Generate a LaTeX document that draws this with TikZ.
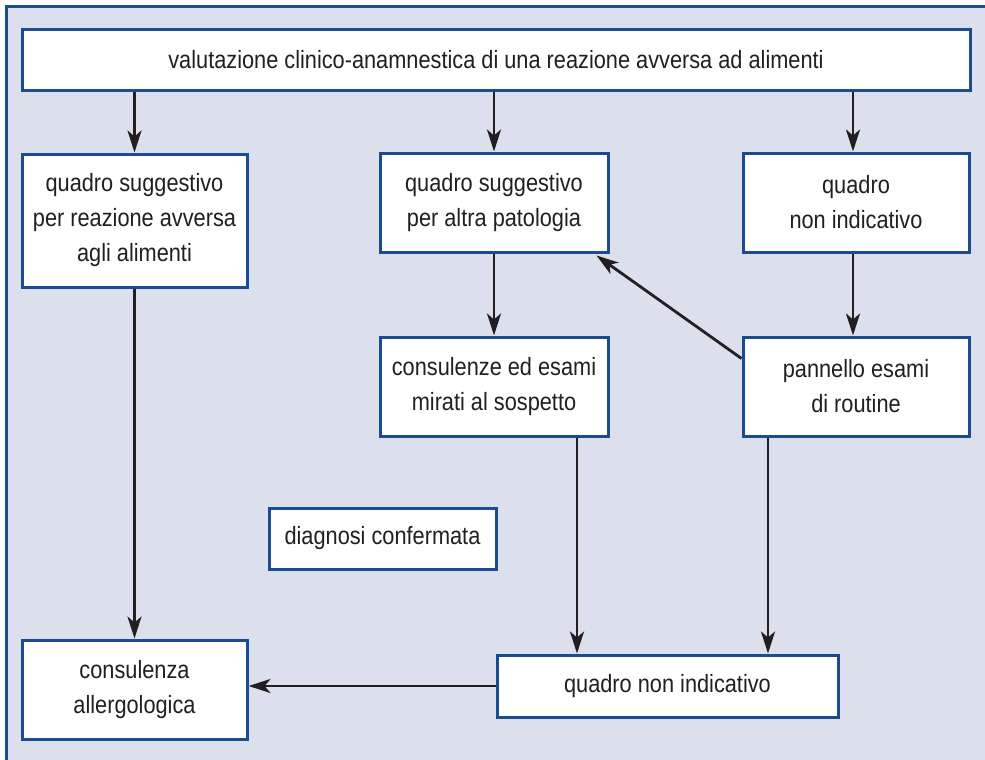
\documentclass[tikz,border=0pt]{standalone}
\usepackage{fontspec}
\setmainfont[FakeStretch=0.87]{Liberation Sans}
\usetikzlibrary{arrows.meta}

\definecolor{bgblue}{HTML}{DCE0ED}
\definecolor{boxblue}{HTML}{1B4C92}
\definecolor{inkgray}{HTML}{231F20}

\tikzset{
  box/.style = {draw = boxblue, fill = white, line width = 1.5pt, align = center,
                inner sep = 0pt, text = inkgray,
                font = \fontsize{12.5}{17.5}\selectfont},
  arr/.style = {draw = inkgray, line width = 1.4pt,
                -{Stealth[length = 11pt, width = 7pt, inset = 3pt]}}
}

\begin{document}
\begin{tikzpicture} [x = 0.5pt, y = -0.5pt]
\useasboundingbox (0, 0) rectangle (985, 760);
\fill[bgblue] (6, 6) rectangle (985, 760);
\draw[boxblue, line width = 1.5pt] (985, 6) -- (6, 6) -- (6, 760);
% boxes
\node[box, minimum width = 474pt, minimum height = 30.5pt] (top) at (496, 59.5)
  {valutazione clinico-anamnestica di una reazione avversa ad alimenti};
\node[box, minimum width = 112.5pt, minimum height = 66.5pt] (sugg) at (134.5, 220.5)
  {quadro suggestivo\\per reazione avversa\\agli alimenti};
\node[box, minimum width = 114pt, minimum height = 49.5pt] (altra) at (494, 202.5)
  {quadro suggestivo\\per altra patologia};
\node[box, minimum width = 113pt, minimum height = 49.5pt] (nonind) at (856, 202.5)
  {quadro\\non indicativo};
\node[box, minimum width = 114pt, minimum height = 49.5pt] (mirati) at (494, 386.5)
  {consulenze ed esami\\mirati al sospetto};
\node[box, minimum width = 113pt, minimum height = 49.5pt] (routine) at (856, 386.5)
  {pannello esami\\di routine};
\node[box, minimum width = 113.5pt, minimum height = 30.5pt] (conf) at (382.5, 538.5)
  {diagnosi confermata};
\node[box, minimum width = 112.5pt, minimum height = 49.5pt] (allerg) at (134.5, 689.5)
  {consulenza\\allergologica};
\node[box, minimum width = 170.5pt, minimum height = 31pt] (finale) at (667.5, 686)
  {quadro non indicativo};
% arrows
\draw[arr] (top.south -| sugg.north) -- (sugg.north);
\draw[arr] (top.south -| altra.north) -- (altra.north);
\draw[arr] ([xshift = -1.5pt]top.south -| nonind.north) -- ([xshift = -1.5pt]nonind.north);
\draw[arr] (sugg.south) -- (allerg.north);
\draw[arr] (altra.south) -- (mirati.north);
\draw[arr] ([xshift = -1.5pt]nonind.south) -- ([xshift = -1.5pt]routine.north);
\draw[arr] ([yshift = -11.5pt]routine.north west) -- ([xshift = -6.5pt, yshift = -1pt]altra.south east);
\draw[arr] ([xshift = 41.5pt]mirati.south) -- ([xshift = 41.5pt]mirati.south |- finale.north);
\draw[arr] ([xshift = -44pt]routine.south) -- ([xshift = -44pt]routine.south |- finale.north);
\draw[arr] (finale.west) -- (allerg.east |- finale.west);
\end{tikzpicture}
\end{document}
